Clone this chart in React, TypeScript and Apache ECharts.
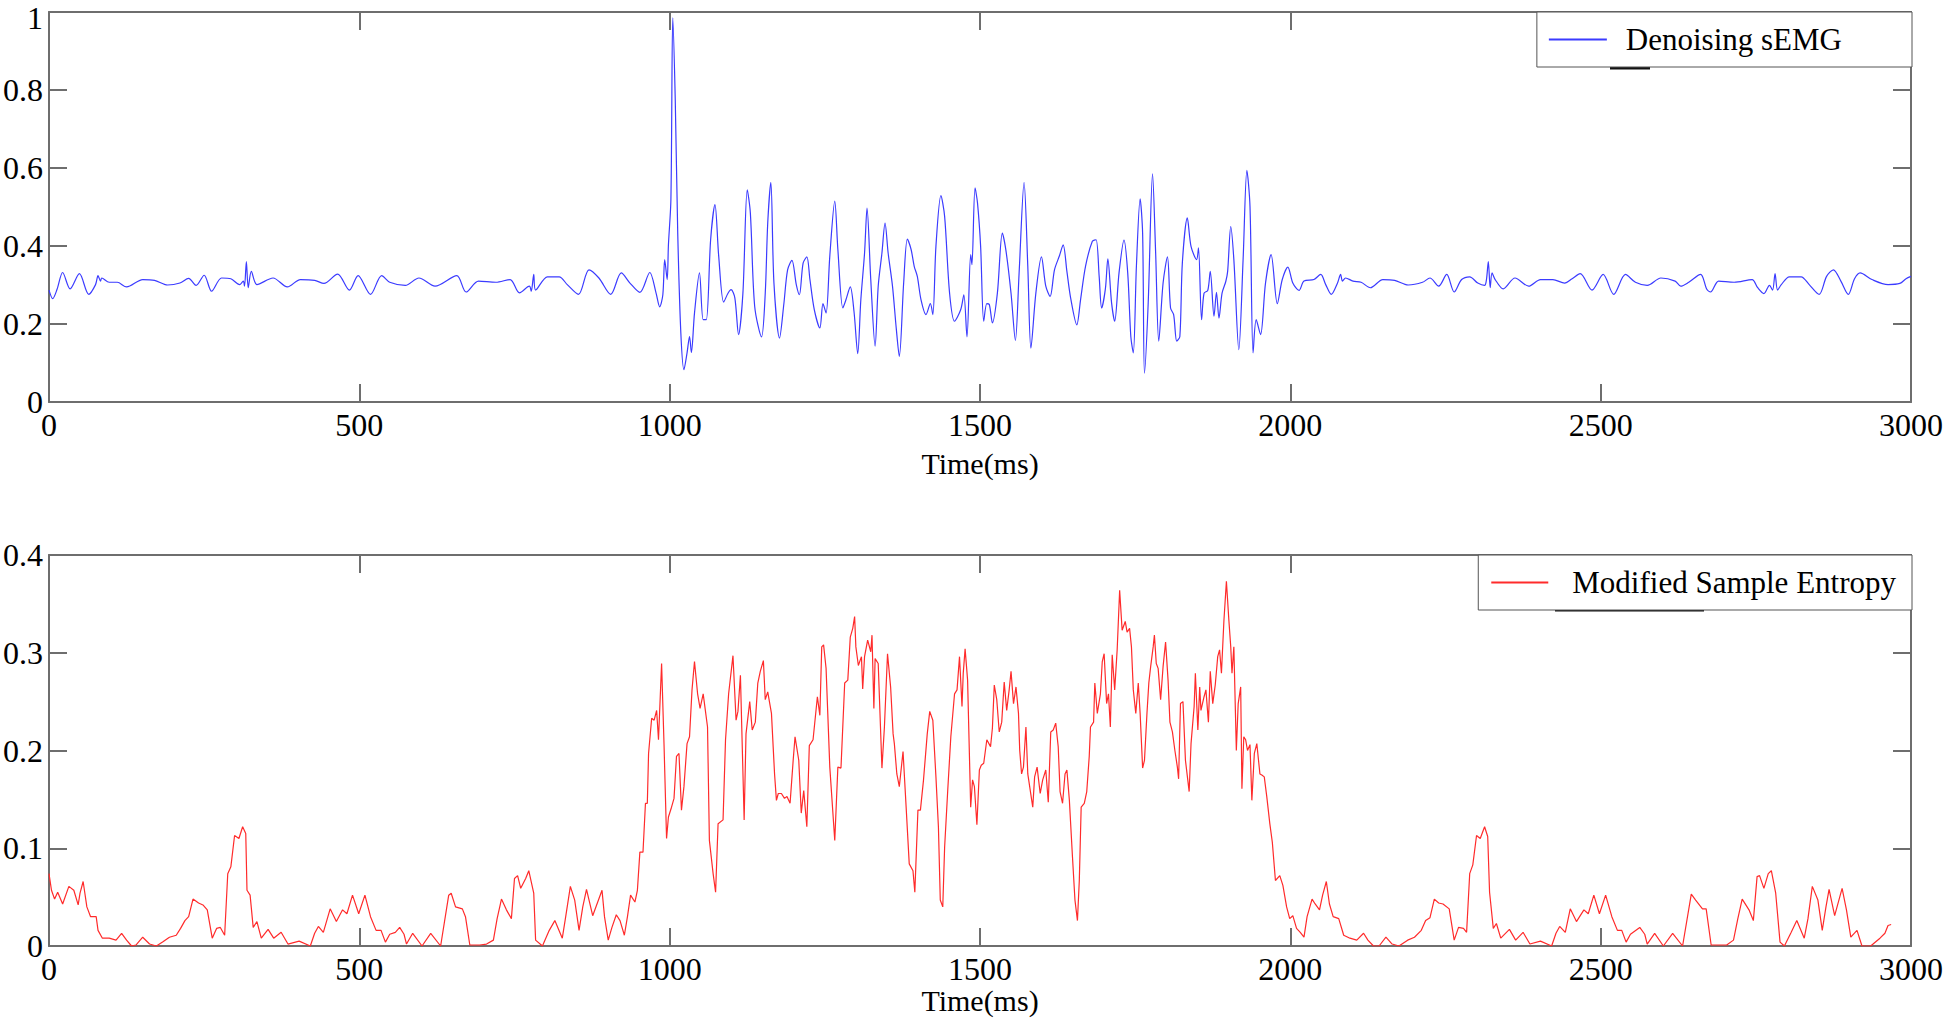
import React, { useEffect, useRef } from "react";
import * as echarts from "echarts";

// ---------- Denoising sEMG (top panel) ----------
const semgPreTime = [0, 6, 13, 22, 34, 49, 64, 75, 79, 83, 85, 97, 110, 125, 151, 170, 191, 211, 225, 237, 250, 262, 278, 293, 307, 313, 315, 318, 321, 326, 335, 361, 384, 405, 428, 443, 465, 484, 498, 518, 536, 549, 574, 596, 622, 657, 672, 692, 720, 743, 758, 774, 777, 781, 784, 803, 822, 835, 853, 870, 886, 905, 922, 936, 952, 968, 978, 984, 989, 992, 996];
const semgPreValue = [0.287, 0.265, 0.289, 0.332, 0.29, 0.329, 0.276, 0.301, 0.324, 0.31, 0.318, 0.307, 0.307, 0.295, 0.314, 0.312, 0.3, 0.305, 0.317, 0.299, 0.325, 0.284, 0.318, 0.316, 0.301, 0.31, 0.297, 0.36, 0.293, 0.335, 0.301, 0.318, 0.295, 0.314, 0.312, 0.304, 0.328, 0.287, 0.324, 0.276, 0.324, 0.307, 0.299, 0.318, 0.297, 0.324, 0.282, 0.31, 0.307, 0.314, 0.28, 0.297, 0.284, 0.327, 0.287, 0.321, 0.321, 0.301, 0.276, 0.339, 0.318, 0.276, 0.331, 0.305, 0.281, 0.332, 0.28, 0.244, 0.275, 0.365, 0.314];

const semgActiveTime = [998, 1002, 1005, 1009, 1013, 1018, 1023, 1028, 1032, 1035, 1040, 1048, 1054, 1059, 1066, 1073, 1079, 1087, 1094, 1099, 1105, 1111, 1118, 1125, 1130, 1137, 1148, 1154, 1158, 1163, 1168, 1177, 1184, 1190, 1197, 1204, 1209, 1215, 1221, 1226, 1233, 1242, 1247, 1252, 1258, 1266, 1271, 1279, 1284, 1291, 1297, 1303, 1308, 1314, 1318, 1324, 1331, 1336, 1342, 1347, 1352, 1359, 1365, 1370, 1377, 1383, 1389, 1394, 1399, 1405, 1413, 1420, 1424, 1429, 1437, 1443, 1451, 1459, 1469, 1474, 1479, 1485, 1487, 1492, 1496, 1501, 1506, 1511, 1515, 1520, 1528, 1536, 1542, 1550, 1557, 1563, 1571, 1577, 1582, 1590, 1599, 1606, 1613, 1620, 1628, 1634, 1640, 1646, 1656, 1662, 1670, 1681, 1687, 1692, 1696, 1702, 1706, 1712, 1717, 1724, 1732, 1738, 1743, 1747, 1752, 1758, 1762, 1765, 1771, 1778, 1783, 1788, 1795, 1802, 1807, 1812, 1817, 1822, 1826, 1834, 1840, 1849, 1852, 1857, 1861, 1867, 1871, 1877, 1881, 1885, 1890, 1896, 1899, 1904, 1909, 1917, 1924, 1930, 1935, 1940, 1945, 1952, 1960, 1969, 1979, 1987, 1996, 2004, 2014, 2022, 2038, 2049, 2057, 2066];
const semgActiveValue = [0.403, 0.519, 0.985, 0.775, 0.433, 0.177, 0.083, 0.126, 0.168, 0.127, 0.228, 0.331, 0.211, 0.211, 0.416, 0.506, 0.374, 0.256, 0.279, 0.288, 0.267, 0.173, 0.279, 0.544, 0.485, 0.245, 0.167, 0.279, 0.459, 0.563, 0.305, 0.164, 0.252, 0.339, 0.363, 0.301, 0.275, 0.356, 0.372, 0.314, 0.237, 0.19, 0.252, 0.228, 0.374, 0.515, 0.391, 0.241, 0.262, 0.295, 0.232, 0.124, 0.262, 0.382, 0.497, 0.314, 0.143, 0.297, 0.382, 0.459, 0.382, 0.297, 0.19, 0.117, 0.305, 0.418, 0.391, 0.348, 0.322, 0.262, 0.224, 0.252, 0.224, 0.399, 0.529, 0.476, 0.279, 0.207, 0.237, 0.275, 0.167, 0.378, 0.352, 0.549, 0.51, 0.399, 0.207, 0.252, 0.25, 0.203, 0.279, 0.433, 0.386, 0.279, 0.158, 0.331, 0.563, 0.348, 0.138, 0.279, 0.372, 0.297, 0.271, 0.339, 0.375, 0.403, 0.335, 0.267, 0.198, 0.262, 0.348, 0.412, 0.416, 0.322, 0.241, 0.29, 0.367, 0.254, 0.207, 0.331, 0.415, 0.331, 0.168, 0.126, 0.348, 0.521, 0.433, 0.074, 0.254, 0.585, 0.382, 0.156, 0.305, 0.372, 0.241, 0.224, 0.156, 0.168, 0.356, 0.472, 0.399, 0.365, 0.395, 0.211, 0.279, 0.286, 0.335, 0.22, 0.281, 0.215, 0.279, 0.309, 0.335, 0.45, 0.365, 0.134, 0.369, 0.594, 0.502, 0.126, 0.211, 0.173, 0.305, 0.378, 0.252, 0.314, 0.346, 0.305, 0.286, 0.31, 0.314, 0.327, 0.301, 0.276];

const semgPostTime = [2076, 2081, 2084, 2089, 2101, 2114, 2129, 2149, 2168, 2190, 2213, 2225, 2239, 2252, 2264, 2276, 2289, 2302, 2313, 2316, 2319, 2322, 2325, 2330, 2343, 2362, 2384, 2403, 2423, 2442, 2454, 2467, 2486, 2504, 2521, 2540, 2556, 2575, 2597, 2620, 2629, 2642, 2661, 2671, 2677, 2690, 2715, 2744, 2753, 2763, 2772, 2777, 2781, 2785, 2791, 2804, 2823, 2836, 2852, 2864, 2875, 2887, 2899, 2909, 2918, 2937, 2963, 2982, 2992, 3000];
const semgPostValue = [0.305, 0.327, 0.31, 0.318, 0.31, 0.307, 0.293, 0.314, 0.312, 0.3, 0.307, 0.318, 0.297, 0.327, 0.282, 0.314, 0.321, 0.305, 0.299, 0.314, 0.36, 0.293, 0.331, 0.314, 0.29, 0.318, 0.297, 0.314, 0.314, 0.305, 0.316, 0.329, 0.287, 0.327, 0.276, 0.327, 0.307, 0.299, 0.318, 0.31, 0.297, 0.307, 0.327, 0.289, 0.282, 0.31, 0.307, 0.314, 0.293, 0.278, 0.299, 0.287, 0.329, 0.287, 0.301, 0.321, 0.321, 0.301, 0.276, 0.322, 0.339, 0.31, 0.276, 0.316, 0.331, 0.314, 0.301, 0.304, 0.316, 0.322];

// ---------- Modified Sample Entropy (bottom panel) ----------
const entropyPreTime = [0, 4, 9, 14, 22, 32, 40, 47, 50, 55, 61, 67, 76, 79, 86, 97, 108, 117, 125, 133, 140, 151, 162, 173, 183, 194, 205, 212, 219, 225, 232, 241, 248, 255, 263, 270, 276, 283, 288, 293, 299, 306, 312, 317, 319, 324, 329, 335, 342, 353, 362, 374, 385, 403, 421, 428, 434, 442, 453, 463, 473, 480, 489, 499, 509, 518, 527, 535, 542, 549, 558, 565, 572, 576, 586, 601, 615, 631, 644, 648, 655, 666, 671, 678, 694, 705, 716, 722, 729, 737, 745, 750, 755, 760, 768, 773, 781, 784, 795, 806, 815, 827, 832, 840, 847, 854, 860, 866, 876, 891, 895, 901, 907, 914, 920, 927, 932, 937, 944, 948, 952, 957, 961, 964, 966];
const entropyPreValue = [0.074, 0.057, 0.048, 0.055, 0.043, 0.061, 0.057, 0.042, 0.054, 0.066, 0.04, 0.03, 0.03, 0.016, 0.008, 0.008, 0.006, 0.013, 0.006, 0, 0.001, 0.009, 0.002, 0, 0.004, 0.009, 0.011, 0.018, 0.026, 0.03, 0.048, 0.044, 0.042, 0.037, 0.008, 0.018, 0.019, 0.011, 0.074, 0.081, 0.113, 0.11, 0.122, 0.115, 0.057, 0.052, 0.019, 0.025, 0.008, 0.017, 0.008, 0.014, 0.002, 0.005, 0, 0.013, 0.02, 0.014, 0.038, 0.025, 0.037, 0.033, 0.052, 0.033, 0.052, 0.03, 0.016, 0.016, 0.004, 0.012, 0.014, 0.019, 0.012, 0.002, 0.013, 0, 0.013, 0, 0.052, 0.054, 0.04, 0.038, 0.03, 0.001, 0.001, 0.002, 0.006, 0.028, 0.048, 0.037, 0.028, 0.069, 0.072, 0.059, 0.069, 0.077, 0.054, 0.006, 0, 0.016, 0.026, 0.008, 0.028, 0.061, 0.047, 0.016, 0.04, 0.058, 0.031, 0.057, 0.03, 0.006, 0.019, 0.032, 0.026, 0.011, 0.03, 0.052, 0.045, 0.057, 0.096, 0.096, 0.146, 0.146, 0.197];

const entropyActiveTime = [971, 975, 979, 982, 987, 991, 995, 998, 1003, 1007, 1011, 1015, 1019, 1023, 1028, 1032, 1036, 1040, 1045, 1049, 1054, 1061, 1064, 1070, 1074, 1078, 1086, 1090, 1095, 1102, 1107, 1110, 1114, 1120, 1123, 1129, 1133, 1138, 1142, 1146, 1151, 1154, 1158, 1164, 1169, 1172, 1175, 1180, 1185, 1189, 1194, 1199, 1202, 1208, 1212, 1216, 1221, 1225, 1231, 1238, 1242, 1245, 1248, 1252, 1258, 1266, 1271, 1276, 1282, 1287, 1291, 1295, 1298, 1300, 1304, 1309, 1311, 1314, 1319, 1324, 1326, 1329, 1331, 1336, 1342, 1346, 1351, 1356, 1360, 1362, 1366, 1370, 1376, 1381, 1386, 1392, 1395, 1400, 1404, 1409, 1415, 1419, 1424, 1429, 1433, 1436, 1440, 1443, 1448, 1453, 1459, 1463, 1467, 1471, 1473, 1476, 1480, 1485, 1488, 1491, 1495, 1499, 1502, 1506, 1511, 1517, 1520, 1523, 1527, 1531, 1535, 1539, 1543, 1547, 1550, 1554, 1558, 1562, 1564, 1567, 1570, 1574, 1577, 1581, 1585, 1588, 1592, 1597, 1601, 1606, 1610, 1614, 1618, 1622, 1626, 1629, 1633, 1637, 1640, 1644, 1649, 1653, 1657, 1660, 1663, 1668, 1672, 1676, 1678, 1683, 1685, 1689, 1694, 1697, 1700, 1704, 1707, 1710, 1713, 1717, 1721, 1725, 1729, 1734, 1737, 1741, 1744, 1747, 1751, 1755, 1758, 1762, 1765, 1769, 1772, 1775, 1779, 1781, 1784, 1787, 1791, 1795, 1799, 1803, 1806, 1810, 1814, 1818, 1820, 1823, 1827, 1831, 1837, 1840, 1845, 1847, 1851, 1854, 1856, 1861, 1864, 1868, 1871, 1875, 1879, 1883, 1886, 1889, 1893, 1897, 1901, 1904, 1906, 1909, 1913, 1916, 1920, 1922, 1925, 1928, 1931, 1935, 1938, 1942, 1946, 1951, 1954, 1958, 1962, 1967, 1971, 1976, 1983, 1988, 1994, 1999, 2004, 2010, 2016, 2022, 2027, 2035, 2040, 2047, 2052, 2058, 2063, 2069, 2078];
const entropyActiveValue = [0.233, 0.231, 0.241, 0.211, 0.289, 0.204, 0.11, 0.132, 0.142, 0.151, 0.194, 0.197, 0.139, 0.163, 0.207, 0.214, 0.262, 0.291, 0.258, 0.243, 0.258, 0.224, 0.108, 0.074, 0.055, 0.125, 0.129, 0.211, 0.258, 0.297, 0.231, 0.24, 0.277, 0.129, 0.217, 0.25, 0.221, 0.229, 0.269, 0.281, 0.292, 0.252, 0.26, 0.238, 0.176, 0.149, 0.156, 0.156, 0.151, 0.153, 0.146, 0.19, 0.214, 0.19, 0.136, 0.159, 0.122, 0.205, 0.211, 0.255, 0.236, 0.306, 0.308, 0.284, 0.183, 0.108, 0.183, 0.182, 0.269, 0.272, 0.316, 0.325, 0.337, 0.306, 0.287, 0.296, 0.263, 0.296, 0.313, 0.301, 0.318, 0.243, 0.294, 0.289, 0.182, 0.224, 0.299, 0.265, 0.217, 0.207, 0.176, 0.163, 0.199, 0.142, 0.084, 0.077, 0.055, 0.139, 0.139, 0.17, 0.217, 0.24, 0.231, 0.173, 0.122, 0.047, 0.04, 0.101, 0.159, 0.214, 0.258, 0.262, 0.296, 0.245, 0.279, 0.304, 0.272, 0.142, 0.17, 0.163, 0.124, 0.18, 0.185, 0.187, 0.211, 0.204, 0.223, 0.267, 0.252, 0.219, 0.229, 0.27, 0.241, 0.262, 0.281, 0.248, 0.265, 0.238, 0.2, 0.176, 0.183, 0.224, 0.176, 0.159, 0.142, 0.173, 0.183, 0.156, 0.17, 0.18, 0.147, 0.219, 0.221, 0.228, 0.204, 0.158, 0.146, 0.176, 0.18, 0.149, 0.091, 0.047, 0.026, 0.067, 0.142, 0.146, 0.158, 0.194, 0.224, 0.229, 0.269, 0.238, 0.258, 0.291, 0.299, 0.248, 0.258, 0.224, 0.298, 0.262, 0.303, 0.364, 0.323, 0.332, 0.321, 0.325, 0.306, 0.262, 0.238, 0.269, 0.238, 0.182, 0.19, 0.238, 0.269, 0.286, 0.306, 0.318, 0.289, 0.284, 0.252, 0.286, 0.311, 0.272, 0.229, 0.219, 0.2, 0.183, 0.171, 0.248, 0.25, 0.19, 0.158, 0.207, 0.245, 0.279, 0.221, 0.265, 0.241, 0.255, 0.262, 0.229, 0.281, 0.248, 0.267, 0.296, 0.303, 0.279, 0.333, 0.373, 0.333, 0.306, 0.279, 0.306, 0.2, 0.248, 0.265, 0.161, 0.214, 0.211, 0.2, 0.206, 0.149, 0.197, 0.207, 0.176, 0.175, 0.173, 0.153, 0.125, 0.106, 0.067, 0.072, 0.062, 0.04, 0.028, 0.031, 0.018, 0.014, 0.009, 0.03, 0.048, 0.043, 0.037, 0.052, 0.066, 0.043, 0.03, 0.028];

const entropyPostTime = [2086, 2096, 2107, 2118, 2125, 2134, 2143, 2154, 2164, 2175, 2189, 2200, 2211, 2218, 2225, 2232, 2239, 2246, 2256, 2264, 2271, 2279, 2284, 2289, 2294, 2300, 2306, 2313, 2318, 2321, 2327, 2332, 2339, 2353, 2363, 2375, 2386, 2403, 2421, 2428, 2434, 2443, 2451, 2461, 2473, 2480, 2489, 2498, 2508, 2518, 2527, 2534, 2541, 2548, 2563, 2571, 2575, 2587, 2601, 2616, 2632, 2646, 2653, 2664, 2670, 2678, 2703, 2714, 2721, 2728, 2739, 2746, 2752, 2756, 2763, 2770, 2775, 2782, 2789, 2796, 2807, 2816, 2828, 2834, 2841, 2850, 2857, 2863, 2868, 2877, 2889, 2896, 2903, 2913, 2921, 2935, 2950, 2958, 2963, 2968];
const entropyPostValue = [0.011, 0.008, 0.006, 0.013, 0.006, 0, 0, 0.009, 0.002, 0, 0.006, 0.009, 0.016, 0.026, 0.029, 0.048, 0.044, 0.043, 0.038, 0.006, 0.019, 0.018, 0.014, 0.074, 0.083, 0.113, 0.11, 0.122, 0.112, 0.055, 0.018, 0.023, 0.008, 0.017, 0.006, 0.014, 0.002, 0.005, 0, 0.013, 0.02, 0.014, 0.038, 0.025, 0.037, 0.033, 0.052, 0.033, 0.052, 0.03, 0.016, 0.016, 0.004, 0.012, 0.019, 0.012, 0.002, 0.013, 0, 0.013, 0, 0.053, 0.047, 0.038, 0.038, 0.001, 0.001, 0.006, 0.028, 0.048, 0.037, 0.026, 0.071, 0.072, 0.059, 0.074, 0.077, 0.054, 0.004, 0, 0.014, 0.026, 0.008, 0.028, 0.061, 0.047, 0.016, 0.04, 0.058, 0.031, 0.059, 0.037, 0.009, 0.016, 0, 0, 0.008, 0.013, 0.021, 0.022];

// ---------- Axis ticks ----------
const timeMin = 0;
const timeMax = 3000;
const timeStep = 500;
const semgAxisMax = 1;
const semgAxisStep = 0.2;
const entropyAxisMax = 0.4;
const entropyAxisStep = 0.1;

const SERIF = "'Liberation Serif', 'Times New Roman', Times, serif";
const AXIS_GRAY = "#6e6e6e";

function pairs(t: number[], v: number[]) {
  return t.map((x, i) => [x, v[i]]);
}

function plainNumber(v: number) {
  return String(Math.round(v * 1000) / 1000);
}

function xAxes(gridIndex: number, nameGap: number) {
  const base = {
    type: "value",
    gridIndex,
    min: timeMin,
    max: timeMax,
    interval: timeStep,
    splitLine: { show: false },
    axisLine: { show: true, onZero: false, lineStyle: { color: AXIS_GRAY, width: 2 } },
    axisTick: { show: true, inside: true, length: 18, lineStyle: { color: AXIS_GRAY, width: 2 } },
  };
  return [
    {
      ...base,
      position: "bottom",
      name: "Time(ms)",
      nameLocation: "middle",
      nameGap,
      nameTextStyle: { fontFamily: SERIF, fontSize: 30, color: "#000" },
      axisLabel: {
        show: true,
        margin: 7,
        fontFamily: SERIF,
        fontSize: 32,
        color: "#000",
        formatter: plainNumber,
      },
    },
    { ...base, position: "top", axisLabel: { show: false } },
  ];
}

function yAxes(gridIndex: number, max: number, step: number, nudgeTop: boolean) {
  const base = {
    type: "value",
    gridIndex,
    min: 0,
    max,
    interval: step,
    splitLine: { show: false },
    axisLine: { show: true, onZero: false, lineStyle: { color: AXIS_GRAY, width: 2 } },
    axisTick: { show: true, inside: true, length: 18, lineStyle: { color: AXIS_GRAY, width: 2 } },
  };
  return [
    {
      ...base,
      position: "left",
      axisLabel: {
        show: true,
        margin: 6,
        fontFamily: SERIF,
        fontSize: 32,
        color: "#000",
        formatter: (v: number) =>
          nudgeTop && Math.abs(v - max) < 1e-9 ? `{top|${plainNumber(v)}}` : plainNumber(v),
        rich: {
          top: { fontFamily: SERIF, fontSize: 32, color: "#000", padding: [12, 0, 0, 0] },
        },
      },
    },
    { ...base, position: "right", axisLabel: { show: false } },
  ];
}

function legendBox(name: string, top: number, padding: number[], itemWidth: number, textGap: number) {
  return {
    data: [name],
    right: 34,
    top,
    backgroundColor: "#fff",
    borderColor: "#555",
    borderWidth: 1,
    borderRadius: 0,
    padding,
    itemWidth,
    itemHeight: 20,
    selectedMode: false,
    itemStyle: { opacity: 0 },
    textStyle: { fontFamily: SERIF, fontSize: 31, color: "#000", padding: [0, 0, 0, textGap] },
  };
}

export default function App() {
  const ref = useRef<HTMLDivElement>(null);

  useEffect(() => {
    document.body.style.margin = "0";
    if (!ref.current) return;
    const chart = echarts.init(ref.current, null, { renderer: "svg" });

    const semgData = pairs(
      [...semgPreTime, ...semgActiveTime, ...semgPostTime],
      [...semgPreValue, ...semgActiveValue, ...semgPostValue]
    );
    const entropyData = pairs(
      [...entropyPreTime, ...entropyActiveTime, ...entropyPostTime],
      [...entropyPreValue, ...entropyActiveValue, ...entropyPostValue]
    );

    chart.setOption({
      animation: false,
      backgroundColor: "#fff",
      grid: [
        { left: 47, top: 12, width: 1865, height: 390, containLabel: false },
        { left: 47, top: 555, width: 1865, height: 391, containLabel: false },
      ],
      xAxis: [...xAxes(0, 46), ...xAxes(1, 27)],
      yAxis: [
        ...yAxes(0, semgAxisMax, semgAxisStep, true),
        ...yAxes(1, entropyAxisMax, entropyAxisStep, false),
      ],
      legend: [
        legendBox("Denoising sEMG", 12, [12, 70, 12, 11], 58, 14),
        legendBox("Modified Sample Entropy", 555, [12, 16, 12, 12], 57, 19),
      ],
      graphic: [
        { type: "line", shape: { x1: 1610, y1: 68, x2: 1650, y2: 68 }, style: { stroke: "#111", lineWidth: 3 } },
        { type: "line", shape: { x1: 1555, y1: 610, x2: 1704, y2: 610 }, style: { stroke: "#111", lineWidth: 3 } },
      ],
      series: [
        {
          name: "Denoising sEMG",
          type: "line",
          xAxisIndex: 0,
          yAxisIndex: 0,
          data: semgData,
          symbol: "none",
          smooth: 0.3,
          lineStyle: { color: "#3b3bff", width: 1.2 },
          itemStyle: { color: "#3b3bff" },
        },
        {
          name: "Modified Sample Entropy",
          type: "line",
          xAxisIndex: 2,
          yAxisIndex: 2,
          data: entropyData,
          symbol: "none",
          lineStyle: { color: "#ff2b2b", width: 1.2 },
          itemStyle: { color: "#ff2b2b" },
        },
      ],
    });

    return () => chart.dispose();
  }, []);

  return <div ref={ref} style={{ width: 1946, height: 1018 }} />;
}
